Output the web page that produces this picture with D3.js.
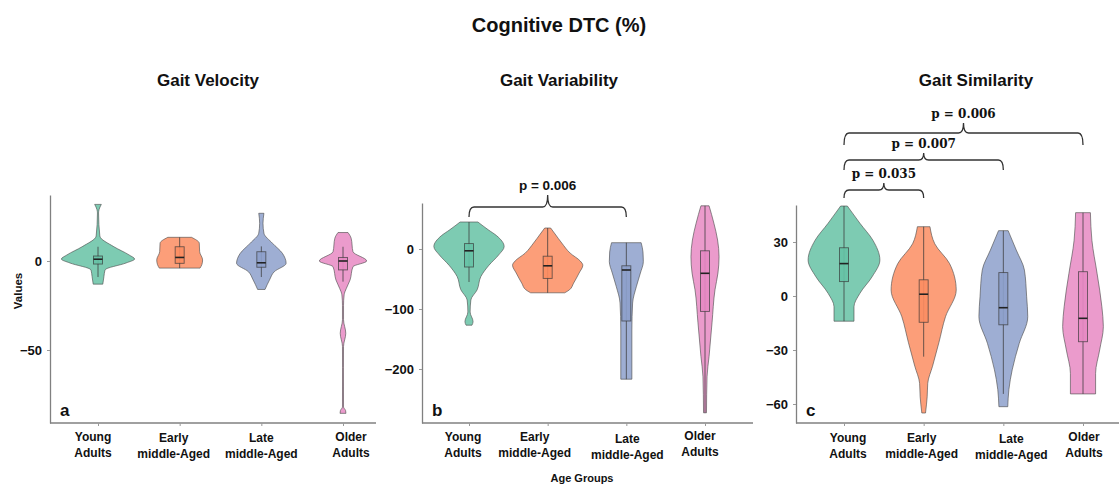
<!DOCTYPE html>
<html>
<head>
<meta charset="utf-8">
<script src="https://cdn.jsdelivr.net/npm/d3@7"></script>
<style>
  body { margin: 0; background: #fff; }
  text { font-family: "Liberation Sans", Arial, sans-serif; fill: #111; }
</style>
</head>
<body>
<svg id="chart"></svg>
<script>
// groups on every panel
const groups = ["Young Adults", "Early middle-Aged", "Late middle-Aged", "Older Adults"];
const groupLines = [["Young", "Adults"], ["Early", "middle-Aged"], ["Late", "middle-Aged"], ["Older", "Adults"]];
const groupColors = ["#66c2a5", "#fc8d62", "#8da0cb", "#e78ac3"];

// violin outlines: [value, relative density]
const velocityViolins = [
  [[31.8, 0.09], [29, 0.03], [27, 0.015], [14, 0.05], [8, 0.43], [3.4, 0.84], [1.1, 0.99], [-1.1, 0.76], [-5, 0.19], [-8.8, 0.16], [-13, 0.13]],
  [[13.3, 0.32], [10, 0.53], [5.2, 0.54], [0.6, 0.62], [-2, 0.6], [-4, 0.55]],
  [[26.8, 0.07], [21.2, 0.045], [15.6, 0.07], [10, 0.3], [4.3, 0.57], [-1.3, 0.67], [-6, 0.35], [-10.7, 0.22], [-16, 0.1]],
  [[16, 0.135], [12.8, 0.22], [5.2, 0.27], [0, 0.64], [-3.2, 0.27], [-10.7, 0.19], [-15.4, 0.09], [-19, 0.03], [-25, 0.014], [-33, 0.014],
   [-40.6, 0.075], [-48, 0.014], [-60, 0.012], [-82, 0.014], [-84, 0.07], [-85.6, 0.08]]
];
// [lower whisker, q1, median, q3, upper whisker]
const velocityBoxes = [
  [-9, -1.7, 1, 2.8, 8],
  [-4, -1.3, 2, 8, 13.3],
  [-9, -3.5, -1, 5.2, 8.2],
  [-11.6, -5, 0, 2, 8]
];

const variabilityViolins = [
  [[45, 0.24], [32, 0.52], [22, 0.75], [4, 0.95], [-10, 0.8], [-27, 0.54], [-46, 0.32], [-68, 0.22], [-85, 0.05], [-105, 0.03], [-121, 0.11], [-127, 0.08]],
  [[35, 0.08], [25, 0.2], [10, 0.38], [-7, 0.61], [-20, 0.88], [-27, 0.95], [-40, 0.85], [-57, 0.7], [-68, 0.59], [-73, 0.46]],
  [[10.5, 0.4], [-5, 0.45], [-21, 0.46], [-40, 0.38], [-63, 0.27], [-90, 0.17], [-135, 0.15], [-217, 0.15]],
  [[72, 0.11], [43, 0.24], [15, 0.34], [-13, 0.38], [-40, 0.35], [-68, 0.27], [-123, 0.19], [-179, 0.11], [-213, 0.055], [-273, 0.04]]
];
const variabilityBoxes = [
  [-55, -30, -3, 9, 45],
  [-73, -49, -28, -12, 35],
  [-217, -120, -35, -28, 10.5],
  [-273, -104, -40.5, -3, 72]
];

const similarityViolins = [
  [[50, 0.09], [40.4, 0.43], [31, 0.78], [20, 0.97], [10.7, 0.76], [1.5, 0.43], [-6, 0.27], [-14, 0.27]],
  [[38.5, 0.17], [29, 0.3], [18, 0.7], [3.3, 0.88], [-11.5, 0.59], [-26, 0.41], [-39, 0.24], [-48.5, 0.11], [-56, 0.095], [-65, 0.05]],
  [[36.3, 0.13], [25.5, 0.35], [14.4, 0.57], [-0.4, 0.63], [-11.5, 0.66], [-26.3, 0.43], [-41, 0.24], [-52, 0.15], [-61.5, 0.12]],
  [[46.3, 0.2], [31, 0.24], [12.6, 0.38], [-6, 0.51], [-17, 0.55], [-30, 0.45], [-43, 0.34], [-54.4, 0.34]]
];
const similarityBoxes = [
  [-14, 8, 18, 26.8, 50],
  [-33.7, -14.6, 1, 9, 38.5],
  [-54.4, -16, -6.5, 13, 36.3],
  [-54.4, -25.4, -12.4, 13.5, 46.3]
];

const velocityTicks = [0, -50];
const variabilityTicks = [0, -100, -200];
const similarityTicks = [30, 0, -30, -60];

// pairwise tests: group index pairs and label
const variabilityTests = [{from: 0, to: 2, label: "p = 0.006"}];
const similarityTests = [
  {from: 0, to: 1, label: "p = 0.035"},
  {from: 0, to: 2, label: "p = 0.007"},
  {from: 0, to: 3, label: "p = 0.006"}
];

const width = 1119, height = 484;
const svg = d3.select("#chart").attr("width", width).attr("height", height);

svg.append("text")
  .attr("x", 559).attr("y", 32)
  .attr("text-anchor", "middle")
  .style("font-size", "20px").style("font-weight", "bold")
  .text("Cognitive DTC (%)");

const panels = [
  {title: "Gait Velocity", titleX: 208, letter: "a", axisX: 50, right: 376, top: 195, bottom: 423,
   xs: [98, 343], yRef: [[0, 261], [-50, 350]], ticks: velocityTicks,
   violins: velocityViolins, boxes: velocityBoxes, tests: [], brackets: [],
   labelDx: [-5, -6, 0, 8], labelDy: [0, 1, 1, 0], pFont: "sans"},
  {title: "Gait Variability", titleX: 559, letter: "b", axisX: 422, right: 753, top: 203, bottom: 423,
   xs: [469, 705], yRef: [[0, 249], [-200, 369]], ticks: variabilityTicks,
   violins: variabilityViolins, boxes: variabilityBoxes, tests: variabilityTests,
   brackets: [[207, 217, 195]],
   labelDx: [-6, -13, 1, -5], labelDy: [0, 0, 2, -1], pFont: "sans"},
  {title: "Gait Similarity", titleX: 976, letter: "c", axisX: 796, right: 1119, top: 205, bottom: 423,
   xs: [844, 1083], yRef: [[0, 296], [-60, 404]], ticks: similarityTicks,
   violins: similarityViolins, boxes: similarityBoxes, tests: similarityTests,
   brackets: [[190, 198, 183], [160, 170, 153], [133, 145, 123]],
   labelDx: [4, -2, 8, 1], labelDy: [1, 1, 2, 0], pFont: "serif"}
];

const densityWidth = d3.scaleLinear().domain([0, 1]).range([0, 37]);

panels.forEach(function(p) {
  const g = svg.append("g");

  g.append("text")
    .attr("x", p.titleX).attr("y", 86)
    .attr("text-anchor", "middle")
    .style("font-size", "17px").style("font-weight", "bold")
    .text(p.title);

  let x = d3.scalePoint().domain(groups).range(p.xs);
  let y = d3.scaleLinear()
    .domain([p.yRef[0][0], p.yRef[1][0]])
    .range([p.yRef[0][1], p.yRef[1][1]]);
  y.domain([y.invert(p.bottom), y.invert(p.top)]).range([p.bottom, p.top]);

  // y axis
  let yAxis = g.append("g")
    .attr("transform", "translate(" + p.axisX + ",0)")
    .call(d3.axisLeft(y).tickValues(p.ticks).tickSize(3).tickSizeOuter(0).tickPadding(5));
  yAxis.select(".domain").attr("stroke", "#808080").attr("stroke-width", 1.3);
  yAxis.selectAll(".tick line").attr("stroke", "#999");
  yAxis.selectAll(".tick text")
    .attr("fill", "#111")
    .style("font-family", "Liberation Sans, Arial, sans-serif")
    .style("font-size", "13px").style("font-weight", "bold");

  // x axis
  g.append("line")
    .attr("x1", p.axisX).attr("x2", p.right)
    .attr("y1", p.bottom).attr("y2", p.bottom)
    .attr("stroke", "#808080").attr("stroke-width", 1.3);
  let xAxis = g.append("g")
    .attr("transform", "translate(0," + p.bottom + ")")
    .call(d3.axisBottom(x).tickSize(3).tickFormat(""));
  xAxis.select(".domain").remove();
  xAxis.selectAll(".tick line").attr("stroke", "#999");

  g.selectAll("text.group")
    .data(groups)
    .enter().append("text")
    .attr("class", "group")
    .attr("text-anchor", "middle")
    .style("font-size", "12px").style("font-weight", "bold")
    .each(function(d, i) {
      const t = d3.select(this);
      groupLines[i].forEach(function(line, k) {
        t.append("tspan")
          .attr("x", x(d) + p.labelDx[i])
          .attr("y", 441 + p.labelDy[i] + k * 16)
          .text(line);
      });
    });

  // violins
  g.selectAll("path.violin")
    .data(p.violins)
    .enter().append("path")
    .attr("class", "violin")
    .attr("d", function(d, i) {
      const cx = x(groups[i]);
      return d3.area()
        .x0((v) => cx - densityWidth(v[1]))
        .x1((v) => cx + densityWidth(v[1]))
        .y((v) => y(v[0]))
        .curve(d3.curveMonotoneY)(d);
    })
    .attr("fill", (d, i) => groupColors[i])
    .attr("fill-opacity", 0.85)
    .attr("stroke", "#4d4d4d")
    .attr("stroke-opacity", 0.7)
    .attr("stroke-width", 0.9);

  // whiskers, boxes, medians
  g.selectAll("line.whisker")
    .data(p.boxes)
    .enter().append("line")
    .attr("class", "whisker")
    .attr("x1", (d, i) => x(groups[i]))
    .attr("x2", (d, i) => x(groups[i]))
    .attr("y1", (d) => y(d[4]))
    .attr("y2", (d) => y(d[0]))
    .attr("stroke", "#3a3a3a").attr("stroke-opacity", 0.75).attr("stroke-width", 1);
  g.selectAll("rect.box")
    .data(p.boxes)
    .enter().append("rect")
    .attr("class", "box")
    .attr("x", (d, i) => x(groups[i]) - 4.5)
    .attr("width", 9)
    .attr("y", (d) => y(d[3]))
    .attr("height", (d) => y(d[1]) - y(d[3]))
    .attr("fill", (d, i) => groupColors[i])
    .attr("fill-opacity", 0.9)
    .attr("stroke", "#3a3a3a").attr("stroke-opacity", 0.75).attr("stroke-width", 0.9);
  g.selectAll("line.median")
    .data(p.boxes)
    .enter().append("line")
    .attr("class", "median")
    .attr("x1", (d, i) => x(groups[i]) - 4.5)
    .attr("x2", (d, i) => x(groups[i]) + 4.5)
    .attr("y1", (d) => y(d[2]))
    .attr("y2", (d) => y(d[2]))
    .attr("stroke", "#222").attr("stroke-width", 1.6);

  g.append("text")
    .attr("x", p.axisX + 10).attr("y", 416)
    .style("font-size", "17px").style("font-weight", "bold")
    .text(p.letter);

  // significance braces
  g.selectAll("path.brace")
    .data(p.tests)
    .enter().append("path")
    .attr("class", "brace")
    .attr("d", function(d, i) {
      const lv = p.brackets[i];
      const x1 = x(groups[d.from]), x2 = x(groups[d.to]);
      const xc = (x1 + x2) / 2, r = 5;
      const path = d3.path();
      path.moveTo(x1, lv[1]);
      path.quadraticCurveTo(x1, lv[0], x1 + r, lv[0]);
      path.lineTo(xc - r, lv[0]);
      path.quadraticCurveTo(xc, lv[0], xc, lv[2]);
      path.quadraticCurveTo(xc, lv[0], xc + r, lv[0]);
      path.lineTo(x2 - r, lv[0]);
      path.quadraticCurveTo(x2, lv[0], x2, lv[1]);
      return path.toString();
    })
    .attr("fill", "none")
    .attr("stroke", "#333")
    .attr("stroke-width", 1.3);

  g.selectAll("text.pval")
    .data(p.tests)
    .enter().append("text")
    .attr("class", "pval")
    .attr("x", (d) => (x(groups[d.from]) + x(groups[d.to])) / 2)
    .attr("y", (d, i) => p.brackets[i][2] - 5)
    .attr("text-anchor", "middle")
    .style("font-family", p.pFont == "serif" ? "DejaVu Serif, serif" : "Liberation Sans, Arial, sans-serif")
    .style("font-size", p.pFont == "serif" ? "12px" : "13.5px")
    .style("font-weight", "bold")
    .text((d) => d.label);
});

svg.append("text")
  .attr("transform", "translate(22,291) rotate(-90)")
  .attr("text-anchor", "middle")
  .style("font-size", "11.5px").style("font-weight", "bold")
  .text("Values");

svg.append("text")
  .attr("x", 582).attr("y", 482)
  .attr("text-anchor", "middle")
  .style("font-size", "11px").style("font-weight", "bold")
  .text("Age Groups");
</script>
</body>
</html>
